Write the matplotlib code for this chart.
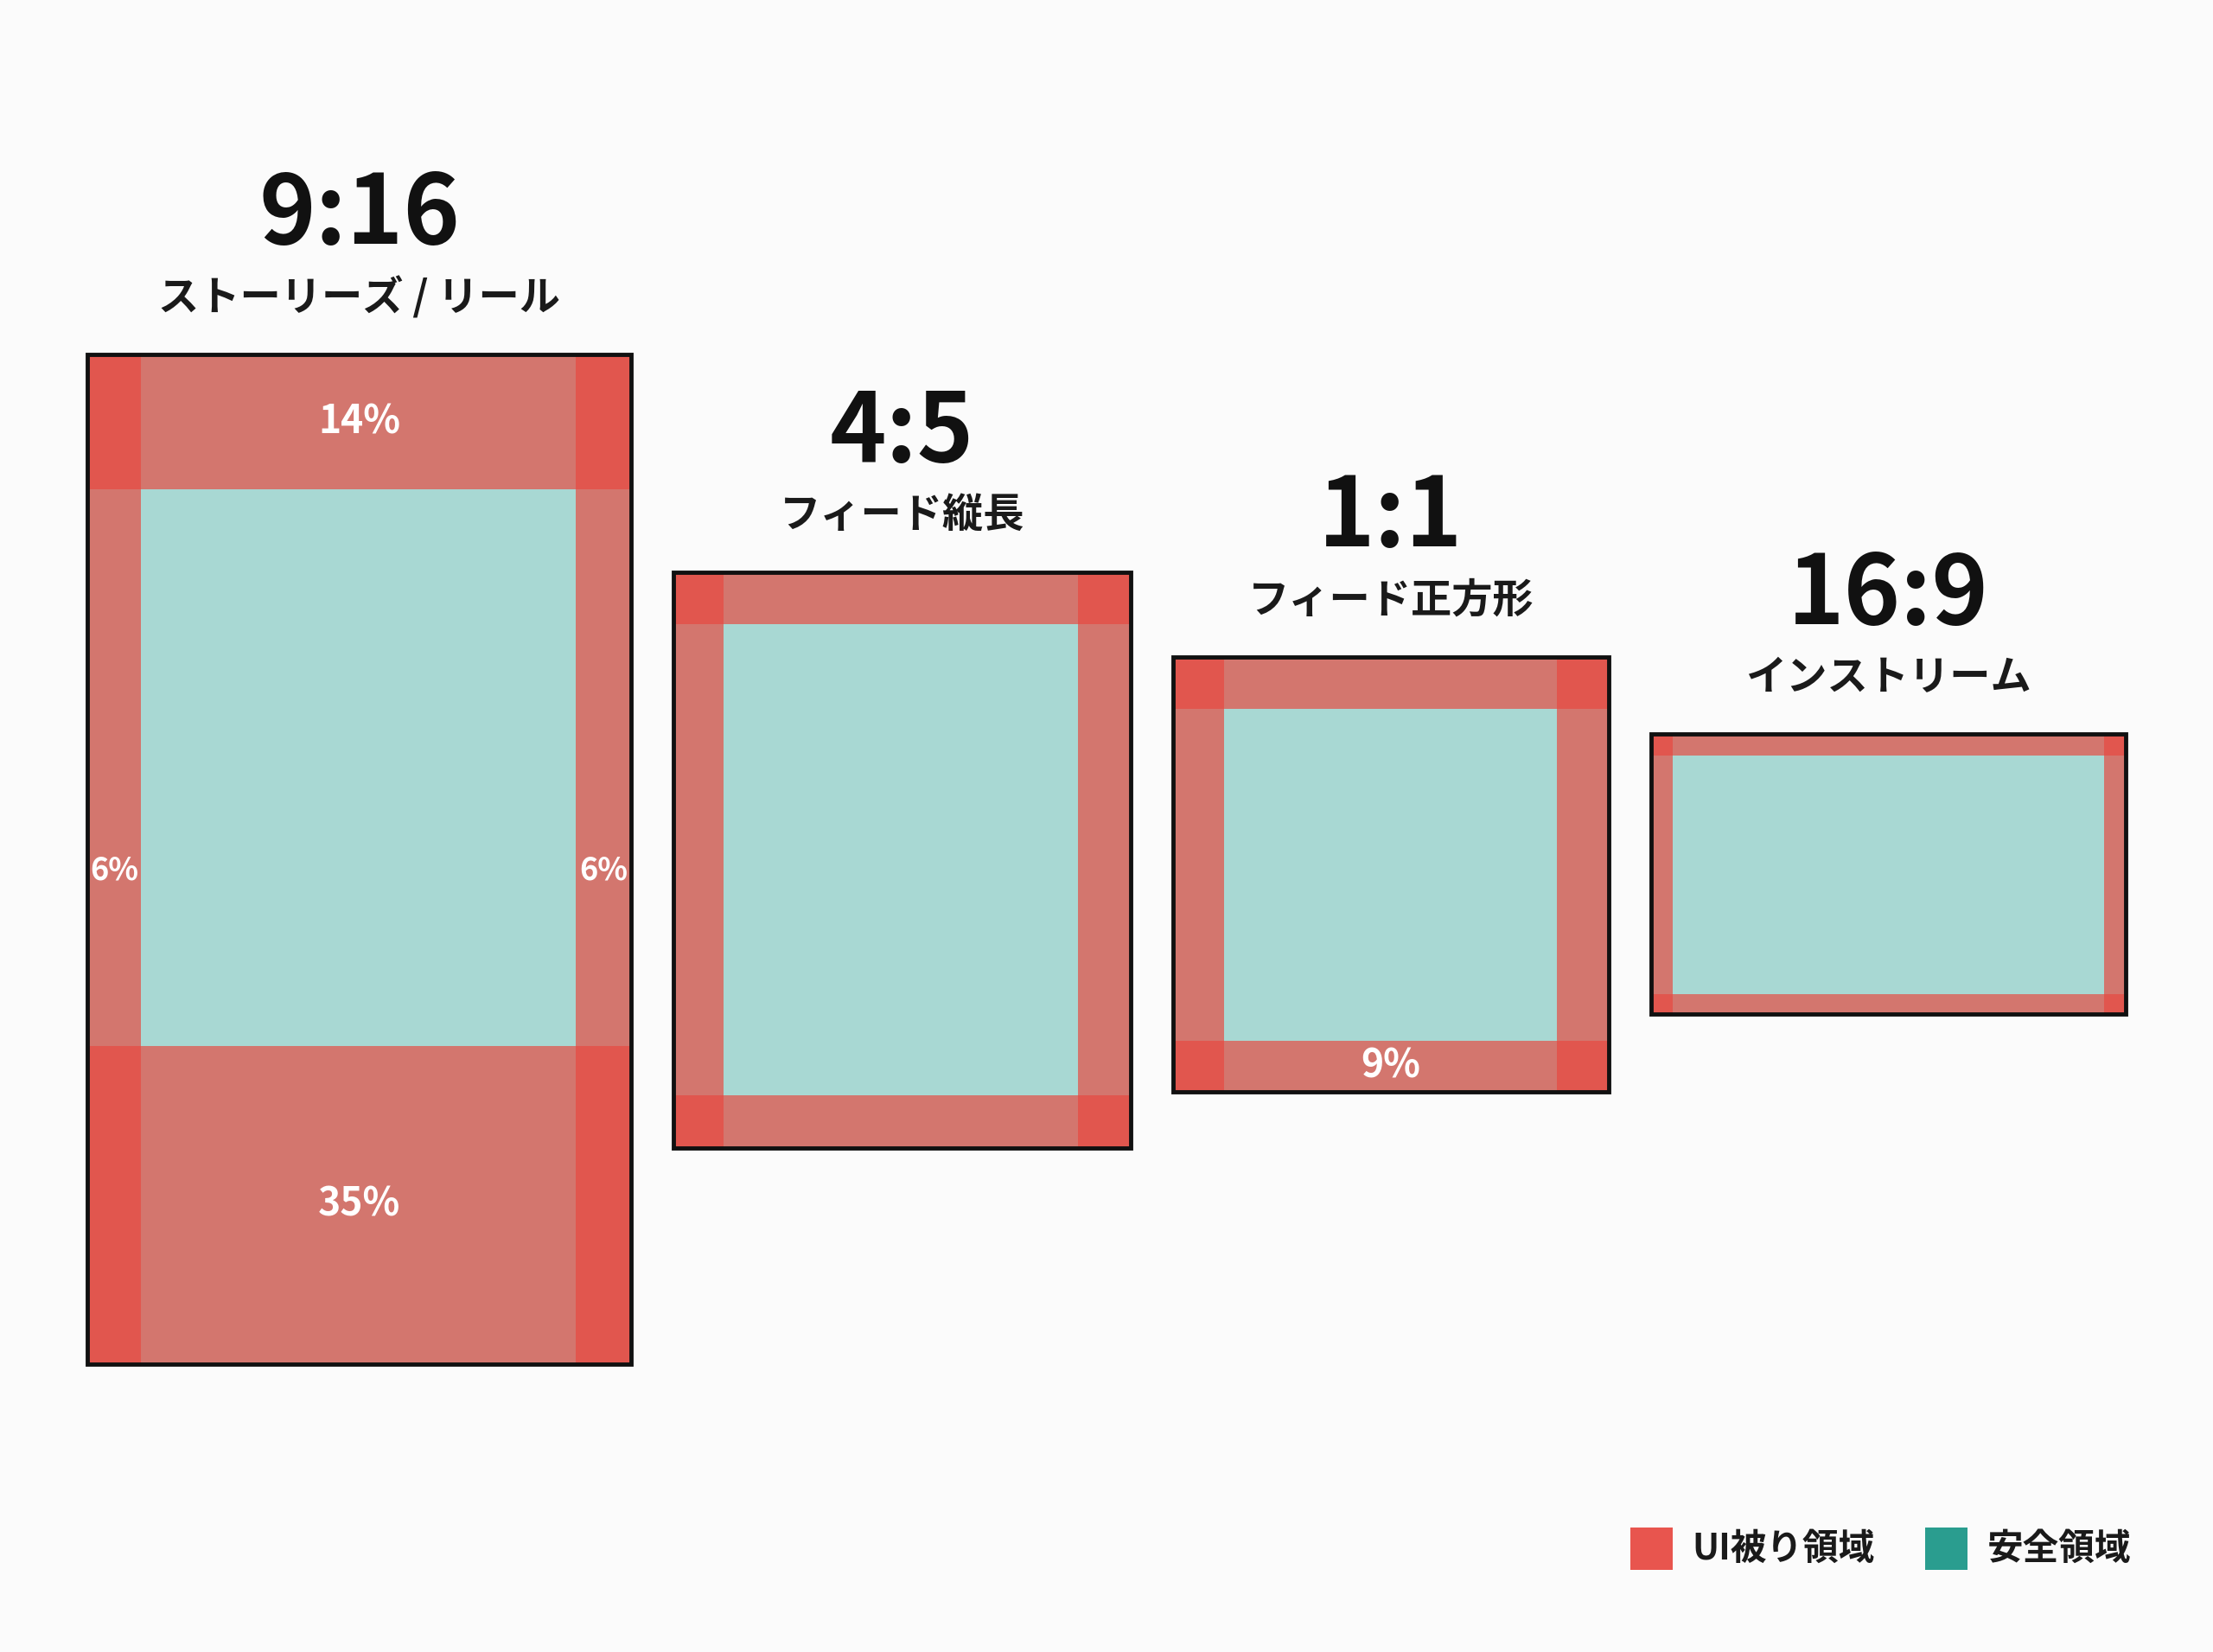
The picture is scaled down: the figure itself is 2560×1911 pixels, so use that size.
import matplotlib
matplotlib.use("Agg")
import matplotlib.pyplot as plt
from matplotlib.patches import Rectangle

plt.rcParams['font.family'] = ['Noto Sans CJK JP', 'DejaVu Sans']

ratios = ["9:16", "4:5", "1:1", "16:9"]
subtitles = ["ストーリーズ / リール", "フィード縦長", "フィード正方形", "インストリーム"]
# box geometry (x, y_top, width, height) in reference pixel units
box_x = [62, 477, 831, 1170]
box_y = [251, 405, 465, 520]
box_w = [385, 324, 309, 336]
box_h = [715, 408, 308, 198]
# margins as fraction of box size: top, bottom, left, right
m_top = [0.134, 0.091, 0.120, 0.076]
m_bot = [0.315, 0.091, 0.117, 0.071]
m_left = [0.099, 0.111, 0.117, 0.045]
m_right = [0.101, 0.114, 0.120, 0.045]
# percentage labels: (box index, position key, text)
labels = [(0, "top", "14%"), (0, "bottom", "35%"), (0, "left", "6%"),
          (0, "right", "6%"), (2, "bottom", "9%")]
legend_labels = ["UI被り領域", "安全領域"]

RED = "#E8483F"
TEAL = "#A8D8D3"
LEG_RED = "#E8554E"
LEG_TEAL = "#2A9D8F"

fig = plt.figure(figsize=(25.6, 19.11), dpi=100)
fig.patch.set_facecolor("#FBFBFB")
ax = fig.add_axes([0, 0, 1, 1])
ax.set_xlim(0, 1568)
ax.set_ylim(1170, 0)
ax.axis("off")

for i in range(4):
    x, y, w, h = box_x[i], box_y[i], box_w[i], box_h[i]
    ax.add_patch(Rectangle((x, y), w, h, facecolor=TEAL, edgecolor="none", zorder=1))
    t, b, l, r = m_top[i]*h, m_bot[i]*h, m_left[i]*w, m_right[i]*w
    a = 0.68
    ax.add_patch(Rectangle((x, y), w, t, facecolor=RED, alpha=a, lw=0, zorder=2))
    ax.add_patch(Rectangle((x, y+h-b), w, b, facecolor=RED, alpha=a, lw=0, zorder=2))
    ax.add_patch(Rectangle((x, y), l, h, facecolor=RED, alpha=a, lw=0, zorder=2))
    ax.add_patch(Rectangle((x+w-r, y), r, h, facecolor=RED, alpha=a, lw=0, zorder=2))
    ax.add_patch(Rectangle((x, y), w, h, facecolor="none", edgecolor="#111111", lw=3.5, zorder=3))
    cx = x + w/2
    ax.text(cx, y-98, ratios[i], ha="center", va="center", fontsize=80,
            fontweight="bold", color="#111111")
    ax.text(cx, y-40, subtitles[i], ha="center", va="center", fontsize=34,
            fontweight="bold", color="#1a1a1a")

for bi, pos, txt in labels:
    x, y, w, h = box_x[bi], box_y[bi], box_w[bi], box_h[bi]
    t, b, l, r = m_top[bi]*h, m_bot[bi]*h, m_left[bi]*w, m_right[bi]*w
    if pos == "top":
        px, py = x + w/2, y + t/2
    elif pos == "bottom":
        px, py = x + w/2, y + h - b/2
    elif pos == "left":
        px, py = x + l/2, y + h/2 + 8
    else:
        px, py = x + w - r/2, y + h/2 + 8
    fs = 26 if pos in ("left", "right") else 32
    ax.text(px, py, txt, ha="center", va="center", fontsize=fs,
            fontweight="bold", color="white", zorder=4)

# legend
leg_x = [1155, 1364]
for lx, col, lab in zip(leg_x, [LEG_RED, LEG_TEAL], legend_labels):
    ax.add_patch(Rectangle((lx, 1082), 30, 30, facecolor=col, lw=0))
    ax.text(lx + 44, 1097, lab, ha="left", va="center", fontsize=30,
            fontweight="bold", color="#1a1a1a")

fig.savefig("out.png", dpi=100, facecolor=fig.get_facecolor())
